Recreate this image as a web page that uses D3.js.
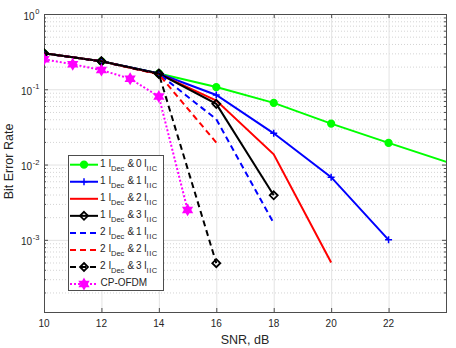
<!DOCTYPE html>
<html>
<head>
<meta charset="utf-8">
<script src="https://cdn.jsdelivr.net/npm/d3@7"></script>
<style>
  body { margin: 0; background: #fff; }
  text { font-family: "Liberation Sans", Arial, sans-serif; fill: #262626; }
</style>
</head>
<body>
<div id="chart"></div>
<script>
'use strict';

// values
const snr10 = [10, 12, 14, 16, 18, 20, 22, 26]
const ber10 = [0.30, 0.235, 0.162, 0.107, 0.066, 0.035, 0.0194, 0.0061]
const snr11 = [10, 12, 14, 16, 18, 20, 22]
const ber11 = [0.30, 0.235, 0.162, 0.084, 0.026, 0.0068, 0.001]
const snr12 = [10, 12, 14, 16, 18, 20]
const ber12 = [0.30, 0.235, 0.160, 0.071, 0.0137, 0.0005]
const snr13 = [10, 12, 14, 16, 18]
const ber13 = [0.30, 0.235, 0.162, 0.064, 0.0039]
const ber21 = [0.30, 0.235, 0.160, 0.040, 0.00166]
const snr22 = [10, 12, 14, 16]
const ber22 = [0.30, 0.235, 0.158, 0.0196]
const ber23 = [0.30, 0.235, 0.160, 0.00049]
const snrOfdm = [10, 11, 12, 13, 14, 15]
const berOfdm = [0.25, 0.215, 0.18, 0.138, 0.080, 0.0025]

const xTicks = [10, 12, 14, 16, 18, 20, 22]
const yTicks = [1, 1e-1, 1e-2, 1e-3]

const series = [
    { dec: 1, iic: 0, x: snr10, y: ber10, color: "#00ff00", dash: null, marker: "circle" },
    { dec: 1, iic: 1, x: snr11, y: ber11, color: "#0000ff", dash: null, marker: "plus" },
    { dec: 1, iic: 2, x: snr12, y: ber12, color: "#ff0000", dash: null, marker: null },
    { dec: 1, iic: 3, x: snr13, y: ber13, color: "#000000", dash: null, marker: "diamond" },
    { dec: 2, iic: 1, x: snr13, y: ber21, color: "#0000ff", dash: "6,4", marker: null },
    { dec: 2, iic: 2, x: snr22, y: ber22, color: "#ff0000", dash: "6,4", marker: null },
    { dec: 2, iic: 3, x: snr22, y: ber23, color: "#000000", dash: "6,4", marker: "diamond" },
    { name: "CP-OFDM", x: snrOfdm, y: berOfdm, color: "#ff00ff", dash: "2,2", marker: "hexagram" }
]

const W = 456, H = 348
const plot = { left: 44, right: 446, top: 14, bottom: 312 }

const svg = d3.select("#chart").append("svg")
    .attr("width", W).attr("height", H)

const x = d3.scaleLinear().domain([10, 24]).range([plot.left, plot.right])
const y = d3.scaleLog().domain([1.1e-4, 1]).range([plot.bottom, plot.top])

// grid
const grid = svg.append("g")
const minor = []
for (let e = -4; e < 0; e++)
    for (let m = 2; m <= 9; m++) {
        const v = m * Math.pow(10, e)
        if (v >= 1.1e-4) minor.push(v)
    }
grid.selectAll(".minor").data(minor).join("line")
    .attr("x1", plot.left).attr("x2", plot.right)
    .attr("y1", d => y(d) + 0.5).attr("y2", d => y(d) + 0.5)
    .attr("stroke", "#d4d4d4").attr("stroke-dasharray", "1,2")
grid.selectAll(".vmaj").data(xTicks.slice(1)).join("line")
    .attr("x1", d => x(d) + 0.5).attr("x2", d => x(d) + 0.5)
    .attr("y1", plot.top).attr("y2", plot.bottom)
    .attr("stroke", "#e3e3e3")
grid.selectAll(".hmaj").data(yTicks.slice(1)).join("line")
    .attr("x1", plot.left).attr("x2", plot.right)
    .attr("y1", d => y(d) + 0.5).attr("y2", d => y(d) + 0.5)
    .attr("stroke", "#e3e3e3")

// axes (ticks pointing inward, mirrored)
const axisColor = "#4d4d4d"
const styleAxis = g => {
    g.select(".domain").remove()
    g.selectAll(".tick line").attr("stroke", axisColor)
    g.selectAll(".tick text").remove()
}
svg.append("g").attr("transform", `translate(0,${plot.bottom})`)
    .call(d3.axisBottom(x).tickValues(xTicks).tickSize(-4))
    .call(styleAxis)
svg.append("g").attr("transform", `translate(0,${plot.top})`)
    .call(d3.axisTop(x).tickValues(xTicks).tickSize(-4))
    .call(styleAxis)
svg.append("g").selectAll("text").data(xTicks).join("text")
    .attr("x", d => x(d)).attr("y", plot.bottom + 14.5)
    .attr("text-anchor", "middle").attr("font-size", 10)
    .text(d => d)

const yTickAll = yTicks.concat(minor)
const ticksY = svg.append("g")
;[plot.left, plot.right].forEach((px, side) => {
    const dir = side === 0 ? 1 : -1
    ticksY.append("g").selectAll("line").data(yTickAll).join("line")
        .attr("x1", px).attr("x2", d => px + dir * (yTicks.includes(d) ? 4 : 2))
        .attr("y1", d => y(d) + 0.5).attr("y2", d => y(d) + 0.5)
        .attr("stroke", axisColor)
})

const ylab = svg.append("g").selectAll("text").data(yTicks).join("text")
    .attr("x", 39.5).attr("y", d => y(d) + 5.5)
    .attr("text-anchor", "end").attr("font-size", 10)
ylab.append("tspan").text("10")
ylab.append("tspan").attr("dx", 0.8).attr("dy", -5.4).attr("font-size", 7.5)
    .text(d => String(Math.round(Math.log10(d))))

svg.append("rect")
    .attr("x", plot.left + 0.5).attr("y", plot.top + 0.5)
    .attr("width", plot.right - plot.left).attr("height", plot.bottom - plot.top)
    .attr("fill", "none").attr("stroke", axisColor)

svg.append("text").attr("x", 245).attr("y", 343.5).attr("text-anchor", "middle")
    .attr("font-size", 12.5).text("SNR, dB")
svg.append("text").attr("transform", `translate(12.7,161.5) rotate(-90)`)
    .attr("text-anchor", "middle").attr("font-size", 12.5).text("Bit Error Rate")

// markers
const markerPath = {
    circle: d3.symbol(d3.symbolCircle, 36)(),
    plus: "M-3.5,0H3.5M0,-3.5V3.5",
    diamond: "M0,-4L4,0L0,4L-4,0Z",
    hexagram: (() => {
        const pts = []
        for (let i = 0; i < 12; i++) {
            const r = i % 2 === 0 ? 5 : 2.9
            const a = Math.PI / 6 * i - Math.PI / 2
            pts.push([r * Math.cos(a), r * Math.sin(a)])
        }
        return "M" + pts.join("L") + "Z"
    })()
}
const drawMarker = (g, kind, color) => {
    const p = g.append("path").attr("d", markerPath[kind]).attr("stroke", color)
        .attr("stroke-width", kind === "diamond" ? 1.8 : 1.5)
    p.attr("fill", kind === "circle" || kind === "hexagram" ? color : "none")
}

svg.append("clipPath").attr("id", "clip").append("rect")
    .attr("x", plot.left).attr("y", plot.top)
    .attr("width", plot.right - plot.left).attr("height", plot.bottom - plot.top)

const lines = svg.append("g").attr("clip-path", "url(#clip)")
const line = d3.line().x(d => x(d[0])).y(d => y(d[1]))
series.forEach(s => {
    const pts = s.x.map((v, i) => [v, s.y[i]])
    lines.append("path").datum(pts)
        .attr("fill", "none").attr("stroke", s.color).attr("stroke-width", 2)
        .attr("stroke-dasharray", s.dash)
        .attr("d", line)
    if (s.marker) pts.forEach(p => {
        const g = lines.append("g").attr("transform", `translate(${x(p[0])},${y(p[1])})`)
        drawMarker(g, s.marker, s.color)
    })
})

// legend
const leg = svg.append("g")
leg.append("rect").attr("x", 68.5).attr("y", 155.5).attr("width", 95).attr("height", 135)
    .attr("fill", "#fff").attr("stroke", axisColor)
series.forEach((s, i) => {
    const ly = 164.7 + i * 17.05
    leg.append("line").attr("x1", 70).attr("x2", 98).attr("y1", ly).attr("y2", ly)
        .attr("stroke", s.color).attr("stroke-width", 2).attr("stroke-dasharray", s.dash)
    if (s.marker) leg.append("g").attr("transform", `translate(84,${ly})`)
        .call(g => drawMarker(g, s.marker, s.color))
    const t = leg.append("text").attr("y", ly + 2.3).attr("font-size", 10)
    if (s.name) { t.attr("x", 100.5).text(s.name); return }
    t.append("tspan").attr("x", 100).text(s.dec)
    t.append("tspan").attr("x", 108.5).text("I")
    t.append("tspan").attr("x", 111).attr("dy", 3.6).attr("font-size", 7.5).text("Dec")
    t.append("tspan").attr("x", 127.5).attr("dy", -3.6).text("&")
    t.append("tspan").attr("x", 136).text(s.iic)
    t.append("tspan").attr("x", 144).text("I")
    t.append("tspan").attr("x", 146.5).attr("dy", 3.6).attr("font-size", 7.5)
        .attr("letter-spacing", 0.6).text("IIC")
})
</script>
</body>
</html>
